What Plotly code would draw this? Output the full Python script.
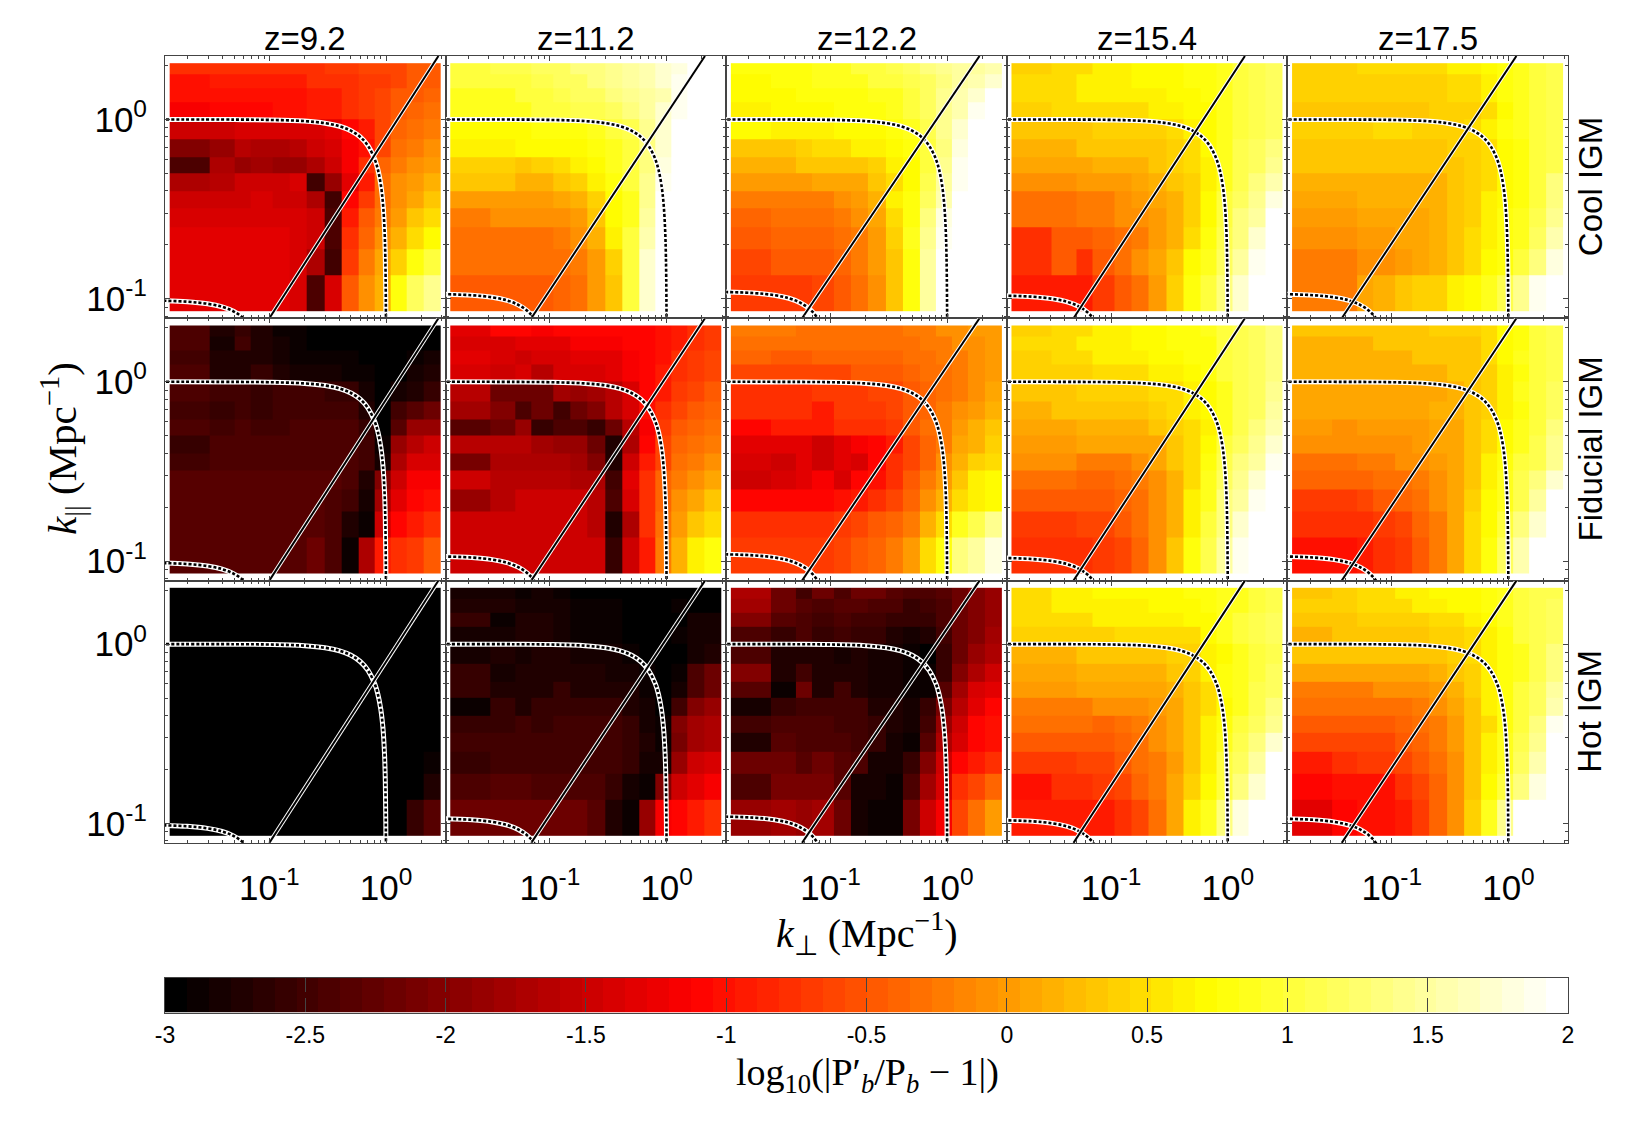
import numpy as np
import plotly.graph_objects as go

# the page keeps an 8 px body margin, so the figure is that much smaller and shifted
PAGE_MARGIN = 8
W, H = 1650 - PAGE_MARGIN, 1125 - PAGE_MARGIN

REDSHIFTS = ["z=9.2", "z=11.2", "z=12.2", "z=15.4", "z=17.5"]
IGM_MODELS = ["Cool IGM", "Fiducial IGM", "Hot IGM"]

# bin edges of the coarse grid, Mpc^-1
K_PERP_EDGES = [0.014, 0.031, 0.05, 0.069, 0.106, 0.15, 0.21, 0.3, 0.42, 0.58, 0.8, 1.1, 1.5, 2.1, 2.94]
K_PAR_EDGES = [0.085, 0.135, 0.19, 0.25, 0.32, 0.4, 0.5, 0.62, 0.78, 1.0, 1.25, 1.5, 1.8, 2.06]

# log10(|P'/P - 1|) x 10, top row first
COOL_92 = [
    [-8, -8, -8, -8, -8, -8, -8, -7, -7, -6, -6, -6, -5, -5],
    [-10, -9, -9, -9, -9, -9, -8, -8, -8, -7, -7, -6, -5, -5],
    [-10, -10, -10, -10, -10, -10, -9, -9, -8, -7, -6, -5, -5, -4],
    [-12, -11, -11, -11, -10, -10, -9, -9, -8, -7, -6, -5, -4, -3],
    [-15, -15, -14, -14, -14, -14, -14, -13, -11, -9, -6, -4, -3, -2],
    [-20, -19, -16, -17, -17, -16, -15, -14, -12, -10, -6, -3, -2, -1],
    [-24, -17, -19, -18, -19, -19, -17, -15, -12, -8, -4, -2, -1, 0],
    [-17, -16, -15, -15, -15, -14, -25, -19, -13, -9, -3, -1, 0, 2],
    [-15, -15, -15, -14, -15, -15, -17, -25, -11, -7, -3, -1, 1, 3],
    [-14, -14, -14, -14, -14, -14, -15, -24, -9, -5, -2, 0, 3, 5],
    [-13, -13, -13, -13, -13, -14, -15, -24, -8, -4, -1, 2, 5, 7],
    [-13, -13, -13, -13, -13, -14, -17, -25, -7, -2, 1, 4, 8, 10],
    [-13, -13, -13, -13, -13, -14, -24, -14, -5, -1, 2, 8, 12, 14],
]
COOL_112 = [
    [10, 11, 11, 12, 12, 13, 13, 14, 15, 16, 17, 18, 20, 20],
    [10, 10, 10, 11, 12, 12, 13, 14, 15, 16, 17, 19, 20, 20],
    [9, 9, 10, 10, 11, 12, 12, 13, 14, 15, 16, 19, 20, 20],
    [9, 9, 9, 10, 10, 11, 11, 12, 13, 15, 17, 19, 20, 20],
    [7, 7, 7, 8, 8, 8, 9, 10, 11, 14, 17, 20, 20, 20],
    [6, 6, 7, 7, 7, 7, 8, 9, 10, 13, 17, 20, 20, 20],
    [4, 4, 3, 4, 5, 6, 7, 9, 10, 13, 18, 20, 20, 20],
    [3, 3, 2, 2, 3, 4, 6, 8, 10, 14, 19, 20, 20, 20],
    [0, 0, 0, 0, 1, 2, 4, 7, 9, 14, 20, 20, 20, 20],
    [-2, -1, -1, -1, -1, 0, 3, 7, 9, 15, 20, 20, 20, 20],
    [-3, -3, -3, -3, -2, -1, 2, 6, 10, 16, 20, 20, 20, 20],
    [-3, -3, -3, -3, -3, -2, 0, 4, 10, 17, 20, 20, 20, 20],
    [-5, -5, -5, -5, -4, -3, 0, 3, 10, 17, 20, 20, 20, 20],
]
COOL_122 = [
    [8, 8, 8, 9, 9, 10, 10, 11, 12, 13, 14, 15, 15, 16],
    [7, 8, 8, 9, 9, 9, 10, 10, 11, 12, 13, 15, 16, 17],
    [7, 7, 8, 8, 8, 8, 9, 9, 10, 12, 14, 16, 17, 20],
    [6, 7, 7, 7, 8, 8, 8, 9, 10, 12, 14, 16, 19, 20],
    [7, 6, 6, 6, 7, 7, 7, 8, 9, 11, 14, 17, 20, 20],
    [3, 3, 4, 5, 5, 6, 6, 7, 8, 10, 13, 18, 20, 20],
    [2, 2, 3, 3, 3, 3, 4, 6, 7, 10, 14, 19, 20, 20],
    [0, 0, 0, 1, 1, 1, 3, 5, 7, 11, 15, 19, 20, 20],
    [-2, -2, -2, -2, -1, 0, 2, 6, 8, 12, 16, 20, 20, 20],
    [-4, -3, -3, -3, -2, -1, 1, 5, 8, 13, 18, 20, 20, 20],
    [-5, -4, -4, -4, -3, -2, 0, 4, 9, 14, 19, 20, 20, 20],
    [-6, -5, -5, -5, -4, -2, 0, 3, 8, 15, 20, 20, 20, 20],
    [-7, -7, -7, -6, -5, -3, -1, 3, 8, 15, 20, 20, 20, 20],
]
COOL_154 = [
    [4, 5, 5, 6, 6, 7, 7, 7, 8, 8, 9, 10, 11, 12],
    [5, 5, 6, 6, 6, 7, 7, 7, 8, 8, 9, 10, 11, 12],
    [5, 5, 6, 6, 6, 6, 6, 7, 7, 8, 9, 10, 11, 12],
    [4, 5, 5, 5, 5, 5, 6, 6, 7, 7, 9, 10, 11, 12],
    [3, 3, 3, 4, 4, 4, 4, 5, 6, 7, 9, 10, 11, 12],
    [2, 2, 3, 3, 3, 3, 3, 4, 5, 7, 9, 11, 12, 13],
    [1, 1, 1, 2, 2, 2, 3, 4, 5, 6, 9, 11, 12, 14],
    [-1, -1, 0, 0, 0, 1, 2, 3, 4, 6, 9, 11, 13, 16],
    [-3, -3, -2, -2, -1, 0, 1, 2, 4, 7, 10, 12, 14, 18],
    [-3, -3, -2, -2, -1, -1, 0, 2, 4, 7, 10, 13, 15, 20],
    [-8, -5, -5, -4, -3, -2, 0, 2, 5, 8, 11, 13, 17, 20],
    [-8, -5, -8, -5, -3, -1, 1, 3, 7, 9, 12, 15, 19, 20],
    [-9, -9, -9, -7, -5, -3, 0, 4, 8, 10, 13, 17, 20, 20],
]
COOL_175 = [
    [4, 4, 5, 5, 5, 5, 5, 6, 6, 7, 8, 9, 10, 11],
    [4, 4, 4, 4, 4, 4, 4, 5, 5, 6, 8, 9, 10, 11],
    [4, 4, 4, 4, 4, 4, 4, 5, 5, 6, 8, 9, 10, 11],
    [3, 3, 3, 3, 3, 3, 4, 4, 4, 5, 7, 9, 10, 11],
    [4, 4, 4, 5, 5, 4, 4, 4, 5, 6, 8, 9, 10, 11],
    [3, 3, 3, 3, 3, 3, 3, 4, 4, 5, 7, 8, 10, 11],
    [3, 3, 3, 3, 3, 3, 3, 3, 4, 5, 7, 8, 10, 11],
    [2, 2, 2, 2, 2, 2, 2, 3, 4, 5, 7, 8, 10, 13],
    [1, 1, 2, 2, 2, 2, 2, 3, 4, 6, 7, 8, 10, 13],
    [0, 0, 1, 1, 1, 1, 2, 3, 4, 6, 8, 9, 11, 14],
    [-1, -1, 0, 0, 1, 1, 2, 3, 5, 6, 8, 9, 12, 16],
    [-2, -2, -1, -1, 0, 1, 2, 3, 5, 7, 8, 10, 13, 18],
    [-2, -2, 1, 2, 3, 4, 4, 6, 7, 9, 11, 14, 19, 20],
]
FID_92 = [
    [-24, -27, -26, -27, -29, -29, -30, -30, -30, -30, -30, -30, -30, -30],
    [-24, -28, -25, -27, -28, -29, -30, -30, -30, -30, -30, -30, -30, -30],
    [-25, -27, -27, -27, -28, -29, -29, -29, -29, -30, -30, -30, -29, -28],
    [-24, -27, -27, -26, -27, -28, -28, -28, -29, -29, -30, -30, -28, -27],
    [-24, -25, -25, -26, -25, -25, -25, -26, -26, -28, -30, -28, -27, -26],
    [-25, -26, -25, -26, -25, -25, -25, -25, -25, -27, -30, -25, -23, -22],
    [-24, -25, -24, -25, -25, -24, -24, -24, -24, -26, -30, -23, -19, -19],
    [-26, -24, -24, -24, -24, -24, -24, -24, -24, -25, -29, -19, -16, -15],
    [-25, -24, -24, -24, -24, -24, -24, -24, -24, -25, -28, -17, -14, -14],
    [-23, -23, -23, -23, -23, -23, -23, -23, -24, -27, -20, -15, -12, -12],
    [-23, -23, -23, -23, -23, -23, -23, -24, -25, -28, -18, -13, -11, -10],
    [-23, -23, -23, -23, -23, -23, -23, -24, -27, -29, -15, -11, -9, -8],
    [-23, -23, -23, -23, -23, -23, -22, -24, -29, -17, -9, -8, -7, -5],
]
FID_112 = [
    [-13, -11, -11, -12, -11, -11, -11, -11, -11, -11, -10, -9, -8, -7],
    [-14, -14, -13, -13, -13, -12, -12, -12, -11, -11, -10, -9, -8, -7],
    [-13, -14, -15, -14, -14, -13, -13, -13, -12, -11, -10, -8, -7, -6],
    [-14, -15, -14, -16, -14, -14, -14, -13, -12, -11, -9, -8, -7, -6],
    [-16, -22, -22, -22, -18, -19, -18, -16, -14, -11, -9, -7, -6, -5],
    [-18, -20, -24, -22, -25, -22, -20, -16, -14, -10, -8, -6, -5, -4],
    [-23, -22, -19, -26, -24, -24, -26, -22, -16, -12, -7, -5, -4, -3],
    [-16, -16, -16, -18, -19, -19, -22, -27, -17, -11, -6, -4, -3, -2],
    [-21, -17, -17, -17, -17, -18, -20, -27, -15, -9, -6, -3, -2, -1],
    [-15, -16, -16, -16, -16, -17, -17, -25, -13, -8, -4, -2, -1, 1],
    [-19, -16, -15, -15, -15, -15, -16, -24, -14, -8, -4, -1, 1, 3],
    [-15, -15, -15, -15, -15, -15, -16, -27, -17, -8, -3, 0, 3, 5],
    [-15, -15, -15, -15, -15, -15, -15, -26, -15, -9, -2, 2, 6, 8],
]
FID_122 = [
    [-2, -2, -3, -3, -3, -3, -3, -3, -2, -2, -1, -1, 0, 0],
    [-3, -3, -3, -3, -3, -3, -3, -3, -3, -2, -2, -1, -1, 0],
    [-4, -5, -5, -4, -4, -4, -4, -4, -3, -3, -2, -2, -1, 0],
    [-6, -6, -6, -6, -6, -5, -5, -5, -4, -3, -3, -2, -1, 0],
    [-8, -8, -8, -7, -7, -7, -6, -6, -5, -4, -3, -2, -1, 1],
    [-8, -8, -8, -9, -7, -7, -7, -6, -5, -4, -2, -1, 0, 2],
    [-11, -9, -9, -9, -8, -8, -8, -7, -5, -3, -2, 0, 2, 3],
    [-13, -13, -13, -15, -13, -12, -11, -9, -6, -4, -2, 1, 2, 4],
    [-14, -15, -13, -15, -13, -14, -11, -8, -6, -4, -1, 2, 4, 5],
    [-15, -14, -13, -12, -14, -11, -10, -8, -5, -2, 0, 3, 6, 7],
    [-11, -11, -11, -11, -10, -9, -8, -6, -4, -1, 2, 5, 6, 7],
    [-8, -8, -8, -8, -7, -6, -5, -4, -2, 2, 5, 9, 11, 14],
    [-7, -7, -7, -7, -6, -5, -4, -2, 0, 5, 8, 13, 15, 18],
]
FID_154 = [
    [4, 5, 5, 6, 6, 7, 7, 8, 8, 9, 10, 11, 12, 13],
    [5, 5, 6, 6, 6, 7, 7, 8, 8, 8, 10, 11, 12, 13],
    [4, 5, 5, 6, 6, 6, 7, 7, 8, 8, 10, 11, 12, 13],
    [4, 4, 4, 5, 5, 5, 6, 6, 7, 8, 10, 11, 12, 13],
    [3, 3, 4, 4, 4, 4, 5, 5, 6, 7, 9, 11, 12, 14],
    [2, 3, 3, 3, 3, 3, 4, 5, 6, 7, 9, 11, 12, 15],
    [1, 1, 2, 2, 2, 2, 3, 4, 5, 6, 9, 11, 13, 16],
    [0, 0, 1, 1, 1, 1, 1, 3, 5, 7, 10, 12, 14, 17],
    [-1, -1, -2, -2, -2, -1, 1, 3, 5, 8, 11, 13, 15, 19],
    [-3, -3, -4, -4, -3, -2, -1, 2, 5, 9, 12, 14, 17, 20],
    [-5, -5, -5, -5, -4, -3, -1, 2, 6, 9, 13, 15, 19, 20],
    [-7, -7, -6, -6, -5, -3, -1, 2, 6, 10, 13, 17, 20, 20],
    [-8, -8, -8, -7, -6, -4, -1, 3, 8, 11, 15, 19, 20, 20],
]
FID_175 = [
    [3, 3, 3, 3, 3, 3, 4, 4, 4, 5, 7, 8, 10, 11],
    [2, 2, 2, 3, 3, 3, 3, 3, 3, 5, 7, 8, 10, 11],
    [2, 2, 2, 2, 2, 3, 3, 3, 3, 5, 7, 9, 10, 11],
    [2, 2, 2, 2, 2, 2, 2, 3, 3, 4, 6, 8, 10, 11],
    [1, 1, 1, 1, 1, 1, 1, 2, 3, 4, 6, 9, 10, 12],
    [1, 1, 1, 1, 1, 1, 2, 2, 3, 4, 6, 8, 10, 12],
    [0, -1, 0, 0, 0, 0, 1, 1, 3, 5, 7, 9, 10, 13],
    [-1, -1, -1, -1, -1, 0, 1, 1, 3, 5, 7, 9, 11, 14],
    [-3, -3, -2, -2, -1, -1, 0, 1, 3, 6, 8, 10, 11, 14],
    [-4, -4, -4, -3, -3, -2, -1, 1, 3, 6, 9, 11, 13, 17],
    [-7, -7, -6, -5, -4, -3, -1, 1, 4, 7, 9, 11, 15, 20],
    [-8, -8, -8, -7, -6, -4, -2, 1, 5, 7, 10, 13, 17, 20],
    [-10, -10, -9, -8, -7, -5, -2, 1, 5, 8, 12, 16, 20, 20],
]
HOT_92 = [
    [-30, -30, -30, -30, -30, -30, -30, -30, -30, -30, -30, -30, -30, -30],
    [-30, -30, -30, -30, -30, -30, -30, -30, -30, -30, -30, -30, -30, -30],
    [-30, -30, -30, -30, -30, -30, -30, -30, -30, -30, -30, -30, -30, -30],
    [-30, -30, -30, -30, -30, -30, -30, -30, -30, -30, -30, -30, -30, -30],
    [-30, -30, -30, -30, -30, -30, -30, -30, -30, -30, -30, -30, -30, -30],
    [-30, -30, -30, -30, -30, -30, -30, -30, -30, -30, -30, -30, -30, -30],
    [-30, -30, -30, -30, -30, -30, -30, -30, -30, -30, -30, -30, -30, -30],
    [-30, -30, -30, -30, -30, -30, -30, -30, -30, -30, -30, -30, -30, -30],
    [-30, -30, -30, -30, -30, -30, -30, -30, -30, -30, -30, -30, -30, -30],
    [-30, -30, -30, -30, -30, -30, -30, -30, -30, -30, -30, -30, -30, -30],
    [-30, -30, -30, -30, -30, -30, -30, -30, -30, -30, -30, -30, -30, -29],
    [-30, -30, -30, -30, -30, -30, -30, -30, -30, -30, -30, -30, -30, -27],
    [-30, -30, -30, -30, -30, -30, -30, -30, -30, -30, -30, -30, -26, -23],
]
HOT_112 = [
    [-28, -28, -29, -28, -29, -30, -30, -30, -30, -30, -30, -30, -30, -30],
    [-27, -27, -28, -28, -28, -29, -29, -29, -30, -30, -30, -29, -30, -30],
    [-26, -29, -27, -27, -28, -29, -29, -29, -30, -30, -30, -30, -28, -28],
    [-28, -28, -27, -27, -28, -29, -29, -29, -30, -30, -30, -29, -28, -28],
    [-28, -27, -28, -27, -27, -28, -28, -28, -29, -30, -30, -30, -28, -27],
    [-26, -28, -27, -27, -27, -27, -27, -28, -28, -29, -30, -29, -24, -22],
    [-26, -27, -27, -27, -26, -27, -27, -27, -27, -29, -30, -28, -24, -22],
    [-29, -26, -27, -26, -26, -26, -26, -26, -27, -28, -30, -25, -20, -19],
    [-26, -26, -25, -26, -25, -25, -25, -25, -26, -28, -29, -20, -18, -17],
    [-25, -25, -25, -25, -25, -25, -25, -25, -26, -27, -29, -21, -18, -17],
    [-26, -25, -25, -25, -25, -25, -25, -25, -26, -28, -28, -19, -15, -14],
    [-24, -23, -23, -24, -24, -24, -24, -26, -28, -29, -20, -15, -13, -12],
    [-22, -22, -22, -22, -22, -22, -23, -27, -29, -19, -12, -11, -9, -8],
]
HOT_122 = [
    [-17, -22, -25, -22, -24, -22, -22, -23, -24, -24, -23, -22, -20, -19],
    [-18, -22, -23, -24, -23, -23, -24, -24, -26, -25, -24, -22, -20, -19],
    [-20, -23, -24, -25, -24, -25, -25, -26, -26, -26, -24, -22, -20, -19],
    [-24, -26, -24, -26, -25, -26, -26, -27, -28, -27, -25, -22, -20, -18],
    [-24, -27, -27, -27, -28, -27, -28, -28, -29, -30, -26, -22, -19, -17],
    [-20, -27, -25, -27, -27, -27, -28, -28, -29, -29, -26, -20, -17, -15],
    [-23, -29, -22, -27, -25, -27, -28, -28, -29, -29, -23, -18, -14, -13],
    [-28, -26, -25, -25, -25, -25, -27, -27, -28, -26, -21, -16, -13, -11],
    [-25, -24, -24, -24, -25, -25, -26, -27, -28, -25, -19, -15, -11, -10],
    [-27, -23, -24, -24, -24, -25, -26, -28, -29, -23, -17, -14, -11, -10],
    [-22, -22, -23, -22, -23, -24, -28, -28, -26, -20, -15, -11, -9, -8],
    [-24, -21, -21, -21, -23, -28, -28, -29, -24, -18, -14, -8, -6, -4],
    [-19, -18, -19, -18, -22, -28, -29, -29, -21, -15, -12, -6, -3, 0],
]
HOT_154 = [
    [5, 6, 6, 7, 7, 7, 7, 7, 8, 8, 9, 9, 10, 11],
    [5, 6, 6, 6, 6, 6, 7, 7, 7, 8, 9, 9, 10, 11],
    [5, 5, 5, 6, 6, 6, 6, 6, 7, 7, 9, 10, 11, 12],
    [4, 4, 4, 4, 5, 5, 5, 5, 5, 7, 9, 10, 11, 12],
    [2, 2, 3, 3, 3, 3, 3, 4, 4, 6, 7, 9, 10, 11],
    [1, 1, 2, 2, 2, 2, 2, 3, 4, 6, 8, 9, 10, 12],
    [0, 0, 1, 1, 1, 1, 1, 2, 3, 5, 8, 9, 11, 12],
    [-2, -2, -2, -1, -1, -1, 0, 1, 3, 5, 7, 9, 11, 13],
    [-3, -3, -3, -4, -3, -2, -1, 1, 3, 6, 8, 10, 12, 14],
    [-5, -5, -5, -5, -4, -3, -1, 1, 3, 6, 9, 11, 13, 17],
    [-7, -7, -6, -6, -5, -3, -2, 0, 3, 6, 10, 12, 15, 20],
    [-10, -8, -8, -7, -6, -4, -2, 1, 4, 7, 10, 13, 17, 20],
    [-9, -9, -9, -9, -8, -6, -3, 1, 6, 9, 13, 18, 20, 20],
]
HOT_175 = [
    [3, 4, 5, 5, 6, 6, 7, 7, 7, 8, 9, 10, 11, 11],
    [4, 4, 5, 5, 5, 6, 6, 7, 7, 8, 9, 10, 11, 12],
    [3, 3, 4, 4, 4, 4, 5, 5, 6, 7, 9, 10, 11, 12],
    [2, 3, 3, 3, 3, 3, 4, 4, 5, 6, 8, 10, 11, 12],
    [3, 3, 3, 3, 3, 3, 3, 4, 5, 6, 8, 9, 11, 13],
    [1, 1, 1, 1, 1, 1, 2, 3, 4, 6, 8, 9, 11, 13],
    [-2, -2, -2, -1, -1, -1, 0, 2, 4, 6, 8, 10, 12, 15],
    [-3, -3, -3, -3, -3, -2, -1, 1, 3, 6, 8, 10, 12, 16],
    [-5, -5, -5, -5, -4, -3, -2, 0, 3, 5, 8, 10, 13, 19],
    [-6, -6, -6, -6, -5, -4, -2, 0, 3, 6, 9, 11, 14, 20],
    [-9, -8, -7, -7, -6, -5, -3, -1, 3, 6, 9, 12, 16, 20],
    [-11, -10, -10, -10, -8, -6, -4, -1, 3, 7, 10, 13, 18, 20],
    [-13, -11, -10, -10, -9, -7, -4, -1, 4, 9, 14, 20, 20, 20],
]
PANELS = [
    [COOL_92, COOL_112, COOL_122, COOL_154, COOL_175],
    [FID_92, FID_112, FID_122, FID_154, FID_175],
    [HOT_92, HOT_112, HOT_122, HOT_154, HOT_175],
]

# wedge line end points for each redshift (k_perp at the bottom and top of a panel)
WEDGE_PAR = [0.078, 2.26]
WEDGE_PERP_LOW = [0.1, 0.0692, 0.057, 0.0476, 0.0373]
WEDGE_PERP_HIGH = [2.81, 2.13, 1.89, 1.4, 1.17]

# constant |k| contour
ARC_PERP = [0.001, 0.05, 0.1, 0.2, 0.3, 0.4, 0.5, 0.6, 0.7, 0.8, 0.85, 0.9, 0.94, 0.97, 0.985, 0.995, 0.999, 1.0]
ARC_PAR = [1.0, 0.999, 0.995, 0.98, 0.954, 0.917, 0.866, 0.8, 0.714, 0.6, 0.527, 0.436, 0.341, 0.243, 0.172, 0.1, 0.05, 0.02]
# radius of the inner contour for each redshift
INNER_RADIUS = [0.0985, 0.107, 0.11, 0.105, 0.107]

LOG_TICKS = [-1, 0]
LOG_LABELS = ["10<sup>-1</sup>", "10<sup>0</sup>"]
BAR_TICKS = [-3, -2.5, -2, -1.5, -1, -0.5, 0, 0.5, 1, 1.5, 2]
BAR_LABELS = ["-3", "-2.5", "-2", "-1.5", "-1", "-0.5", "0", "0.5", "1", "1.5", "2"]
MINOR_X = [0.02, 0.03, 0.04, 0.05, 0.06, 0.07, 0.08, 0.09, 0.2, 0.3, 0.4, 0.5, 0.6, 0.7, 0.8, 0.9, 2, 3]
MINOR_Y = [0.08, 0.09, 0.2, 0.3, 0.4, 0.5, 0.6, 0.7, 0.8, 0.9, 2]

N_LEVELS = 64
AXIS_COLOR = "#444444"
SANS = "Liberation Sans"
SERIF = "Liberation Serif"

# panel block in pixels of the photographed page
LEFT, TOP = 165.0, 56.0
PANEL_W, PANEL_H = 280.6, 262.3
X_RANGE = [-1.894, 0.51]
Y_RANGE = [-1.108, 0.354]
BAR_BOX = [165.0, 1568.0, 977.5, 1012.5]


def hot_color(t):
    r = min(t / 0.375, 1)
    g = min(max((t - 0.375) / 0.375, 0), 1)
    b = min(max((t - 0.75) / 0.25, 0), 1)
    return f"rgb({round(r * 255)},{round(g * 255)},{round(b * 255)})"


def stepped_hot(n):
    scale = []
    for i in range(n):
        c = hot_color(i / (n - 1))
        scale += [[i / n, c], [(i + 1) / n, c]]
    return scale


def px_x(x):
    return (x - PAGE_MARGIN) / W


def px_y(y):
    return 1 - (y - PAGE_MARGIN) / H


fig = go.Figure()
layout = {}

for row in range(3):
    for col in range(5):
        n = row * 5 + col + 1
        xref, yref = f"x{n}", f"y{n}"
        x0 = LEFT + col * PANEL_W
        y0 = TOP + row * PANEL_H
        shared = dict(
            type="log",
            showgrid=False,
            zeroline=False,
            showline=True,
            mirror="ticks",
            linecolor=AXIS_COLOR,
            linewidth=1,
            ticks="inside",
            ticklen=5,
            tickwidth=1.2,
            tickcolor=AXIS_COLOR,
            tickmode="array",
            tickvals=[10.0**v for v in LOG_TICKS],
            ticktext=LOG_LABELS,
            tickfont=dict(family=SANS, size=35, color="black"),
            layer="above traces",
        )
        layout[f"xaxis{n}"] = dict(
            shared,
            domain=[px_x(x0), px_x(x0 + PANEL_W)],
            range=X_RANGE,
            anchor=yref,
            showticklabels=row == 2,
            ticklabelstandoff=14,
            minor=dict(ticks="inside", ticklen=3, tickcolor=AXIS_COLOR, tickmode="array", tickvals=MINOR_X),
        )
        layout[f"yaxis{n}"] = dict(
            shared,
            domain=[px_y(y0 + PANEL_H), px_y(y0)],
            range=Y_RANGE,
            anchor=xref,
            showticklabels=col == 0,
            ticklabelstandoff=10,
            minor=dict(ticks="inside", ticklen=3, tickcolor=AXIS_COLOR, tickmode="array", tickvals=MINOR_Y),
        )

        z = [[v / 10 for v in line] for line in reversed(PANELS[row][col])]
        fig.add_trace(go.Heatmap(x=K_PERP_EDGES, y=K_PAR_EDGES, z=z, coloraxis="coloraxis", xaxis=xref, yaxis=yref, hoverinfo="skip"))

        arcs = [
            (ARC_PERP, ARC_PAR),
            ([v * INNER_RADIUS[col] for v in ARC_PERP], [v * INNER_RADIUS[col] for v in ARC_PAR]),
        ]
        for ax, ay in arcs:
            fig.add_trace(go.Scatter(x=ax, y=ay, mode="lines", line=dict(color="white", width=5, shape="spline"), xaxis=xref, yaxis=yref, showlegend=False, hoverinfo="skip"))
            fig.add_trace(go.Scatter(x=ax, y=ay, mode="lines", line=dict(color="black", width=2.6, dash="3px,2px", shape="spline"), xaxis=xref, yaxis=yref, showlegend=False, hoverinfo="skip"))

        wedge_x = [WEDGE_PERP_LOW[col], WEDGE_PERP_HIGH[col]]
        fig.add_trace(go.Scatter(x=wedge_x, y=WEDGE_PAR, mode="lines", line=dict(color="white", width=4), xaxis=xref, yaxis=yref, showlegend=False, hoverinfo="skip"))
        fig.add_trace(go.Scatter(x=wedge_x, y=WEDGE_PAR, mode="lines", line=dict(color="black", width=2), xaxis=xref, yaxis=yref, showlegend=False, hoverinfo="skip"))

# colour bar drawn as its own one-row heatmap, so its ticks can mirror top and bottom
bar_edges = np.linspace(-3, 2, N_LEVELS + 1)
bar_levels = (bar_edges[:-1] + bar_edges[1:]) / 2
fig.add_trace(go.Heatmap(x=bar_edges, y=[0, 1], z=[bar_levels], coloraxis="coloraxis", xaxis="x16", yaxis="y16", hoverinfo="skip"))
layout["xaxis16"] = dict(
    domain=[px_x(BAR_BOX[0]), px_x(BAR_BOX[1])],
    range=[-3, 2],
    anchor="y16",
    showgrid=False,
    zeroline=False,
    showline=True,
    mirror="ticks",
    linecolor=AXIS_COLOR,
    linewidth=1.2,
    ticks="inside",
    ticklen=14,
    tickwidth=1,
    tickcolor=AXIS_COLOR,
    tickmode="array",
    tickvals=BAR_TICKS,
    ticktext=BAR_LABELS,
    tickfont=dict(family=SANS, size=23, color="black"),
    ticklabelstandoff=2,
    layer="above traces",
)
layout["yaxis16"] = dict(
    domain=[px_y(BAR_BOX[3]), px_y(BAR_BOX[2])],
    range=[0, 1],
    anchor="x16",
    showgrid=False,
    zeroline=False,
    showline=True,
    mirror=True,
    linecolor=AXIS_COLOR,
    linewidth=1.2,
    showticklabels=False,
    ticks="",
)

annotations = []
for col, label in enumerate(REDSHIFTS):
    annotations.append(dict(text=label, x=px_x(LEFT + (col + 0.5) * PANEL_W), y=px_y(39), font=dict(family=SANS, size=33, color="black")))
for row, label in enumerate(IGM_MODELS):
    annotations.append(dict(text=label, x=px_x(1590), y=px_y(TOP + (row + 0.5) * PANEL_H), textangle=-90, font=dict(family=SANS, size=33, color="black")))
annotations.append(dict(text="<i>k</i><sub>||</sub> (Mpc<sup>−1</sup>)", x=px_x(62), y=px_y(449), textangle=-90, font=dict(family=SERIF, size=41, color="black")))
annotations.append(dict(text="<i>k</i><sub>⊥</sub> (Mpc<sup>−1</sup>)", x=px_x(867), y=px_y(933), font=dict(family=SERIF, size=40, color="black")))
annotations.append(dict(text="log<sub>10</sub>(|P′<sub><i>b</i></sub>/P<sub><i>b</i></sub> − 1|)", x=px_x(867), y=px_y(1075), font=dict(family=SERIF, size=38, color="black")))
for a in annotations:
    a.update(xref="paper", yref="paper", xanchor="center", yanchor="middle", showarrow=False)

fig.update_layout(
    width=W,
    height=H,
    margin=dict(l=0, r=0, t=0, b=0, autoexpand=False),
    paper_bgcolor="white",
    plot_bgcolor="white",
    showlegend=False,
    coloraxis=dict(cmin=-3, cmax=2, colorscale=stepped_hot(N_LEVELS), showscale=False),
    annotations=annotations,
    **layout,
)

fig.write_html("out.html")
